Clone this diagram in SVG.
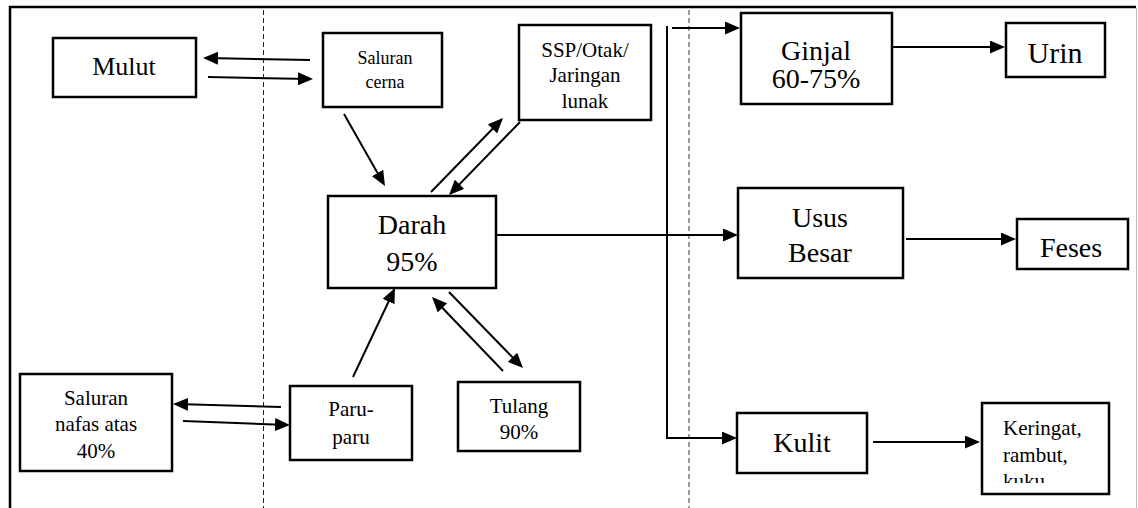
<svg xmlns="http://www.w3.org/2000/svg" width="1138" height="508" viewBox="0 0 1138 508" font-family="'Liberation Serif', 'Times New Roman', Tinos, 'DejaVu Serif', serif">
<style>
  .box { fill: #fff; stroke: #000; stroke-width: 2.5; }
  .ln { stroke: #000; stroke-width: 2; fill: none; }
  .arr { stroke: #000; stroke-width: 2; fill: none; marker-end: url(#ah); }
  .t { font-family: 'Liberation Serif', 'Times New Roman', Tinos, 'DejaVu Serif', serif; fill: #000; text-anchor: middle; }
  .ts { font-family: 'Liberation Serif', 'Times New Roman', Tinos, 'DejaVu Serif', serif; fill: #000; text-anchor: start; }
</style>
<defs>
  <marker id="ah" viewBox="0 0 15 13" refX="12" refY="6.5" markerWidth="15" markerHeight="13" markerUnits="userSpaceOnUse" orient="auto">
    <path d="M0,0 L15,6.5 L0,13 Z" fill="#000"/>
  </marker>
  <clipPath id="kclip"><rect x="982" y="403" width="127" height="80"/></clipPath>
</defs>
<rect width="1138" height="508" fill="#fff"/>

<g id="frame">
  <line x1="9" y1="7" x2="1136" y2="7" stroke="#000" stroke-width="2.5"/>
  <line x1="10" y1="6" x2="10" y2="508" stroke="#000" stroke-width="2.5"/>
  <line x1="1136.5" y1="8" x2="1136.5" y2="508" stroke="#bdbdbd" stroke-width="1"/>
  <line x1="263.5" y1="10" x2="263.5" y2="508" stroke="#222" stroke-width="1" stroke-dasharray="5 3"/>
  <line x1="689" y1="10" x2="689" y2="508" stroke="#666" stroke-width="1.3" stroke-dasharray="5 3"/>
</g>

<g id="connectors">
  <line class="arr" x1="310" y1="60" x2="206" y2="58"/>
  <line class="arr" x1="208" y1="77" x2="310" y2="79"/>
  <line class="arr" x1="344" y1="114" x2="383.5" y2="183.4"/>
  <line class="arr" x1="431" y1="192" x2="500.9" y2="120.2"/>
  <line class="arr" x1="520" y1="122" x2="451.1" y2="192.9"/>
  <line class="arr" x1="449" y1="292" x2="520.9" y2="365.9"/>
  <line class="arr" x1="503" y1="371" x2="434.1" y2="299.2"/>
  <line class="arr" x1="353" y1="377" x2="393.7" y2="290.7"/>
  <line class="arr" x1="281" y1="407" x2="176" y2="404"/>
  <line class="arr" x1="183" y1="421" x2="287" y2="425"/>
  <line class="arr" x1="496" y1="235" x2="735" y2="235"/>
  <line class="ln" x1="667" y1="26" x2="667" y2="439"/>
  <line class="arr" x1="672" y1="28" x2="737" y2="28"/>
  <line class="arr" x1="666" y1="438" x2="734" y2="438"/>
  <line class="arr" x1="892" y1="47" x2="1002" y2="47"/>
  <line class="arr" x1="906" y1="239" x2="1013" y2="239"/>
  <line class="arr" x1="873" y1="442" x2="977" y2="442"/>
</g>

<g id="mulut">
  <rect class="box" x="53" y="38" width="143" height="59"/>
  <text class="t" x="124" y="75" font-size="26">Mulut</text>
</g>
<g id="saluran-cerna">
  <rect class="box" x="323" y="33" width="119" height="74"/>
  <text class="t" x="385" y="64" font-size="18">Saluran</text>
  <text class="t" x="385" y="88" font-size="18">cerna</text>
</g>
<g id="ssp">
  <rect class="box" x="519" y="25" width="132" height="95"/>
  <text class="t" x="585" y="57" font-size="21">SSP/Otak/</text>
  <text class="t" x="585" y="82" font-size="21">Jaringan</text>
  <text class="t" x="585" y="108" font-size="21">lunak</text>
</g>
<g id="darah">
  <rect class="box" x="328" y="196" width="168" height="92"/>
  <text class="t" x="412" y="234" font-size="28">Darah</text>
  <text class="t" x="412" y="271" font-size="28">95%</text>
</g>
<g id="ginjal">
  <rect class="box" x="741" y="13" width="151" height="91"/>
  <text class="t" x="816" y="60" font-size="28">Ginjal</text>
  <text class="t" x="816" y="88" font-size="28">60-75%</text>
</g>
<g id="urin">
  <rect class="box" x="1006" y="23" width="99" height="54"/>
  <text class="t" x="1055" y="63" font-size="30">Urin</text>
</g>
<g id="usus-besar">
  <rect class="box" x="738" y="188" width="165" height="90"/>
  <text class="t" x="820" y="227" font-size="28">Usus</text>
  <text class="t" x="820" y="262" font-size="28">Besar</text>
</g>
<g id="feses">
  <rect class="box" x="1017" y="219" width="111" height="50"/>
  <text class="t" x="1071" y="257" font-size="28">Feses</text>
</g>
<g id="kulit">
  <rect class="box" x="737" y="413" width="130" height="60"/>
  <text class="t" x="802" y="452" font-size="28">Kulit</text>
</g>
<g id="keringat">
  <rect class="box" x="982" y="403" width="127" height="91"/>
  <g clip-path="url(#kclip)">
    <text class="ts" x="1003" y="435" font-size="21">Keringat,</text>
    <text class="ts" x="1003" y="462" font-size="21">rambut,</text>
    <text class="ts" x="1003" y="488" font-size="21">kuku</text>
  </g>
</g>
<g id="tulang">
  <rect class="box" x="458" y="382" width="122" height="69"/>
  <text class="t" x="519" y="413" font-size="21">Tulang</text>
  <text class="t" x="519" y="439" font-size="21">90%</text>
</g>
<g id="paru">
  <rect class="box" x="290" y="386" width="122" height="74"/>
  <text class="t" x="351" y="416" font-size="21">Paru-</text>
  <text class="t" x="351" y="444" font-size="21">paru</text>
</g>
<g id="saluran-nafas">
  <rect class="box" x="20" y="374" width="152" height="97"/>
  <text class="t" x="96" y="405" font-size="21">Saluran</text>
  <text class="t" x="96" y="431" font-size="21">nafas atas</text>
  <text class="t" x="96" y="458" font-size="21">40%</text>
</g>
</svg>
